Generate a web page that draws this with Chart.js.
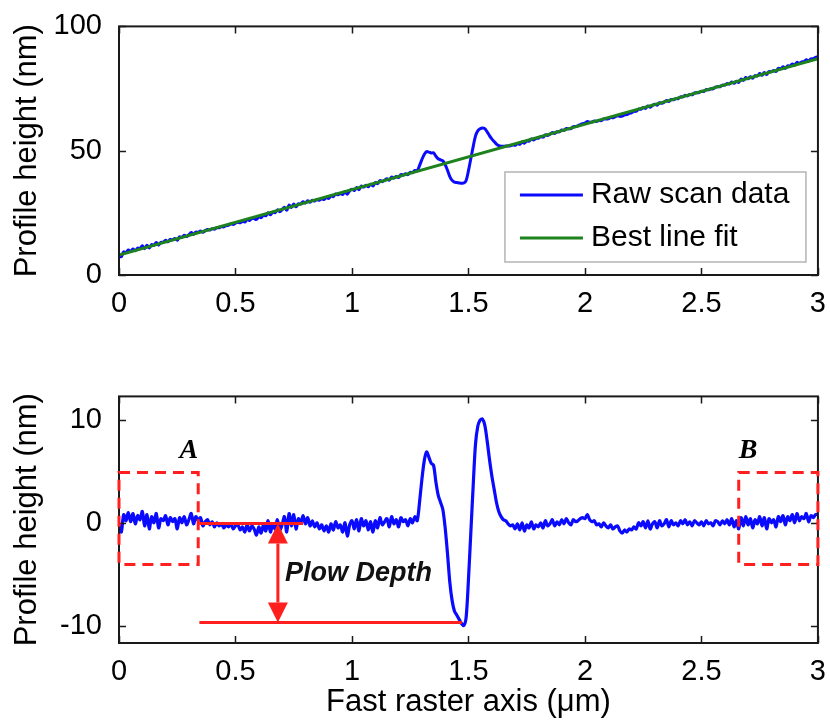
<!DOCTYPE html>
<html>
<head>
<meta charset="utf-8">
<title>Profile height</title>
<script src="https://cdn.jsdelivr.net/npm/chart.js@4.4.1/dist/chart.umd.min.js"></script>
<style>
  html, body { margin: 0; padding: 0; background: #fff; }
  #wrap { position: relative; width: 830px; height: 721px; overflow: hidden; }
  #wrap canvas { position: absolute; left: 0; }
  #topChart { top: 0; }
  #bottomChart { top: 370px; }
</style>
</head>
<body>
<div id="wrap">
  <canvas id="topChart" width="830" height="330"></canvas>
  <canvas id="bottomChart" width="830" height="351"></canvas>
</div>
<script>
// 扫描数据：采样间隔（μm），起点为 0
const scanStep = 0.01;

// 去趋势后的剖面高度（nm），每行 10 个点，从 0.00 到 3.00 μm
const residual = [
  -0.2, -0.9, 0.8, 0.2, 1.0, 0.1, 0.9, -0.1, 0.7, 0.3,
  1.1, -0.3, 0.8, -0.6, 0.6, 0.0, 0.9, -0.5, 0.4, 0.2,
  0.7, -0.2, 0.5, 0.1, 0.4, -0.6, 0.5, 0.0, 0.6, -0.2,
  0.3, 0.9, -0.1, 0.6, 0.2, 0.5, -0.3, 0.1, 0.3, -0.2,
  0.1, -0.4, 0.0, -0.3, -0.1, -0.5, -0.2, -0.4, -0.1, -0.6,
  -0.3, -0.2, -0.7, -0.4, -0.9, -0.2, -0.8, -0.3, -0.6, -1.2,
  -0.4, -1.0, -0.2, -0.8, 0.2, -0.9, -0.1, -0.6, 0.3, -0.7,
  -0.2, 0.6, -0.9, 0.9, -0.3, 0.8, -0.6, 0.4, 0.0, 0.7,
  -0.1, 0.5, -0.3, 0.2, -0.4, 0.0, -0.6, -0.2, -0.8, -0.3,
  -0.9, -0.1, -0.7, 0.1, -0.5, -0.2, -0.9, 0.0, -1.3, -0.2,
  0.2, -0.6, 0.3, -0.8, 0.4, -0.3, 0.2, -0.7, 0.1, -0.9,
  0.2, -0.5, 0.5, -0.2, 0.1, 0.4, -0.4, 0.6, -0.1, 0.3,
  -0.4, 0.5, 0.1, 0.3, -0.3, 0.4, 0.0, 0.6, 0.2, 2.0,
  4.2, 6.0, 6.9, 6.4, 5.8, 5.6, 4.0, 2.7, 2.0, 1.3,
  -0.5, -3.0, -5.8, -7.6, -8.6, -9.0, -9.4, -9.8, -10.0, -9.2,
  -5.5, -1.0, 3.5, 7.6, 9.4, 10.0, 10.1, 9.5, 8.0, 6.2,
  4.6, 3.3, 2.0, 1.1, 0.6, 0.3, 0.2, -0.1, -0.3, -0.2,
  -0.6, -0.1, -0.7, 0.0, -0.8, -0.2, -0.5, 0.1, -0.6, -0.2,
  -0.4, 0.0, -0.5, 0.2, -0.3, -0.1, 0.3, -0.3, 0.1, -0.2,
  0.3, -0.1, 0.4, 0.0, -0.2, 0.3, 0.1, 0.2, 0.4, 0.5,
  0.4, 0.8, 0.3, 0.1, 0.2, -0.2, -0.1, -0.4, 0.0, -0.3,
  -0.5, -0.2, -0.6, -0.4, -0.3, -0.8, -1.0, -0.7, -0.9, -0.6,
  -0.7, -0.4, -0.6, 0.0, -0.3, 0.1, -0.5, 0.2, -0.6, -0.1,
  0.1, -0.5, 0.2, -0.3, -0.1, 0.3, -0.4, 0.2, -0.2, 0.0,
  -0.3, 0.2, -0.1, 0.3, -0.2, 0.1, -0.3, 0.2, 0.0, -0.2,
  0.1, -0.3, 0.2, -0.1, 0.0, -0.3, 0.2, 0.1, -0.2, 0.2,
  -0.1, 0.3, -0.2, 0.4, -0.4, 0.2, -0.6, 0.5, -0.3, 0.6,
  -0.2, 0.4, -0.5, 0.3, -0.1, 0.6, -0.3, 0.5, -0.6, 0.4,
  0.0, 0.3, -0.4, 0.6, 0.1, 0.7, -0.2, 0.6, 0.2, 0.8,
  0.0, 0.9, 0.2, 0.6, 0.4, 0.9, 0.1, 0.7, 0.5, 0.8,
  0.8
];

// 最佳拟合直线的两个端点
const fitX = [0, 3];
const fitY = [8, 87];

// 刻度
const xTicks = [0, 0.5, 1, 1.5, 2, 2.5, 3];
const topYTicks = [0, 50, 100];
const bottomYTicks = [-10, 0, 10];

// 标注（数据坐标）
const markBoxes = [
  { label: 'A', x0: 0, x1: 0.34, y0: -4.05, y1: 4.9, labelX: 0.30, labelY: 7.0 },
  { label: 'B', x0: 2.66, x1: 3, y0: -4.05, y1: 4.9, labelX: 2.70, labelY: 7.0 }
];
const plowTop = { x0: 0.345, x1: 0.79, y: -0.07 };
const plowBottom = { x0: 0.345, x1: 1.472, y: -9.7 };
const plowArrowX = 0.682;
const plowText = { text: 'Plow Depth', x: 0.712, y: -4.95 };

const BLUE = '#0a0aff';
const GREEN = '#1e821e';
const RED = '#ff1f1f';
const FONT = "'Liberation Sans', Arial, sans-serif";

Chart.defaults.font.family = FONT;
Chart.defaults.color = '#000';

function fitAt(x) {
  return fitY[0] + (fitY[1] - fitY[0]) * (x - fitX[0]) / (fitX[1] - fitX[0]);
}

const profilePoints = residual.map((v, i) => ({ x: +(i * scanStep).toFixed(2), y: v }));
const rawPoints = profilePoints.map(p => ({ x: p.x, y: fitAt(p.x) + p.y }));
const fitPoints = fitX.map((x, i) => ({ x: x, y: fitY[i] }));

// 外框 + 向内的刻度线（类似 MATLAB 风格）
const boxPlugin = {
  id: 'boxFrame',
  afterDraw(chart) {
    const { ctx, chartArea: a, scales } = chart;
    const len = 7;
    ctx.save();
    ctx.strokeStyle = '#1a1a1a';
    ctx.lineWidth = 1.5;
    ctx.beginPath();
    scales.x.ticks.forEach(t => {
      const px = Math.round(scales.x.getPixelForValue(t.value)) + 0.5;
      ctx.moveTo(px, a.bottom); ctx.lineTo(px, a.bottom - len);
      ctx.moveTo(px, a.top); ctx.lineTo(px, a.top + len);
    });
    scales.y.ticks.forEach(t => {
      const py = Math.round(scales.y.getPixelForValue(t.value)) + 0.5;
      ctx.moveTo(a.left, py); ctx.lineTo(a.left + len, py);
      ctx.moveTo(a.right, py); ctx.lineTo(a.right - len, py);
    });
    ctx.stroke();
    ctx.lineWidth = 2;
    ctx.strokeRect(a.left, a.top, a.right - a.left, a.bottom - a.top);
    ctx.restore();
  }
};

// 图内图例
const insideLegend = {
  id: 'insideLegend',
  afterDraw(chart) {
    const { ctx, chartArea: a } = chart;
    const w = 301, h = 90;
    const left = a.right - 12 - w;
    const top = a.bottom - 13 - h;
    ctx.save();
    ctx.fillStyle = '#fff';
    ctx.fillRect(left, top, w, h);
    ctx.strokeStyle = '#b4b4b4';
    ctx.lineWidth = 1.5;
    ctx.strokeRect(left, top, w, h);
    ctx.font = '30px ' + FONT;
    ctx.textBaseline = 'middle';
    ctx.fillStyle = '#000';
    chart.data.datasets.forEach((ds, i) => {
      const y = top + 23 + i * 43;
      ctx.strokeStyle = ds.borderColor;
      ctx.lineWidth = 3;
      ctx.beginPath();
      ctx.moveTo(left + 15, y);
      ctx.lineTo(left + 78, y);
      ctx.stroke();
      ctx.fillText(ds.label, left + 86, y);
    });
    ctx.restore();
  }
};

// A/B 区域与犁沟深度标注
const plowMarks = {
  id: 'plowMarks',
  afterDraw(chart) {
    const { ctx, scales: { x, y } } = chart;
    ctx.save();
    ctx.strokeStyle = RED;
    ctx.fillStyle = RED;
    ctx.lineWidth = 3;

    ctx.setLineDash([11, 7]);
    markBoxes.forEach(b => {
      const l = x.getPixelForValue(b.x0), r = x.getPixelForValue(b.x1);
      const t = y.getPixelForValue(b.y1), bt = y.getPixelForValue(b.y0);
      ctx.strokeRect(l, t, r - l, bt - t);
    });
    ctx.setLineDash([]);

    ctx.fillStyle = '#000';
    ctx.font = 'italic bold 28px "Liberation Serif", "Times New Roman", serif';
    ctx.textAlign = 'center';
    ctx.textBaseline = 'middle';
    markBoxes.forEach(b => {
      ctx.fillText(b.label, x.getPixelForValue(b.labelX), y.getPixelForValue(b.labelY));
    });

    ctx.fillStyle = RED;
    [plowTop, plowBottom].forEach(s => {
      const py = y.getPixelForValue(s.y);
      ctx.beginPath();
      ctx.moveTo(x.getPixelForValue(s.x0), py);
      ctx.lineTo(x.getPixelForValue(s.x1), py);
      ctx.stroke();
    });

    const ax = x.getPixelForValue(plowArrowX);
    const yTop = y.getPixelForValue(plowTop.y);
    const yBot = y.getPixelForValue(plowBottom.y);
    const head = 20, half = 10;
    ctx.beginPath();
    ctx.moveTo(ax, yTop + head);
    ctx.lineTo(ax, yBot - head);
    ctx.stroke();
    ctx.beginPath();
    ctx.moveTo(ax, yTop); ctx.lineTo(ax - half, yTop + head); ctx.lineTo(ax + half, yTop + head);
    ctx.closePath(); ctx.fill();
    ctx.beginPath();
    ctx.moveTo(ax, yBot); ctx.lineTo(ax - half, yBot - head); ctx.lineTo(ax + half, yBot - head);
    ctx.closePath(); ctx.fill();

    ctx.fillStyle = '#111';
    ctx.font = 'italic bold 27px ' + FONT;
    ctx.textAlign = 'left';
    ctx.fillText(plowText.text, x.getPixelForValue(plowText.x), y.getPixelForValue(plowText.y));
    ctx.restore();
  }
};

function xScale(showTitle, height) {
  return {
    type: 'linear',
    min: 0,
    max: 3,
    grid: { display: false },
    border: { display: false },
    afterBuildTicks: s => { s.ticks = xTicks.map(v => ({ value: v })); },
    afterFit: s => { s.height = height; },
    ticks: { font: { size: 29 }, padding: 4, maxRotation: 0, callback: v => String(v) },
    title: {
      display: showTitle,
      text: 'Fast raster axis (μm)',
      font: { size: 31 },
      padding: { top: 0, bottom: 0 }
    }
  };
}

function yScale(min, max, tickList) {
  return {
    type: 'linear',
    min: min,
    max: max,
    grid: { display: false },
    border: { display: false },
    afterBuildTicks: s => { s.ticks = tickList.map(v => ({ value: v })); },
    afterFit: s => { s.width = 119; },
    ticks: { font: { size: 29 }, padding: 9, callback: v => String(v) },
    title: {
      display: true,
      text: 'Profile height (nm)',
      font: { size: 31 },
      padding: { top: 9, bottom: 0 }
    }
  };
}

const common = {
  responsive: false,
  animation: false,
  devicePixelRatio: 1,
  plugins: { legend: { display: false }, tooltip: { enabled: false } },
  elements: { point: { radius: 0 } }
};

new Chart(document.getElementById('topChart').getContext('2d'), {
  type: 'line',
  data: {
    datasets: [
      { label: 'Raw scan data', data: rawPoints, borderColor: BLUE, borderWidth: 3, tension: 0.3, order: 1 },
      { label: 'Best line fit', data: fitPoints, borderColor: GREEN, borderWidth: 3, tension: 0, order: 0 }
    ]
  },
  options: Object.assign({}, common, {
    layout: { padding: { top: 22, right: 10, left: 0, bottom: 0 } },
    scales: { x: xScale(false, 55), y: yScale(0, 100, topYTicks) }
  }),
  plugins: [boxPlugin, insideLegend]
});

new Chart(document.getElementById('bottomChart').getContext('2d'), {
  type: 'line',
  data: {
    datasets: [
      { label: 'Profile', data: profilePoints, borderColor: BLUE, borderWidth: 3.2, tension: 0.3 }
    ]
  },
  options: Object.assign({}, common, {
    layout: { padding: { top: 22, right: 10, left: 0, bottom: 0 } },
    scales: { x: xScale(true, 78), y: yScale(-11.7, 12.3, bottomYTicks) }
  }),
  plugins: [boxPlugin, plowMarks]
});
</script>
</body>
</html>
